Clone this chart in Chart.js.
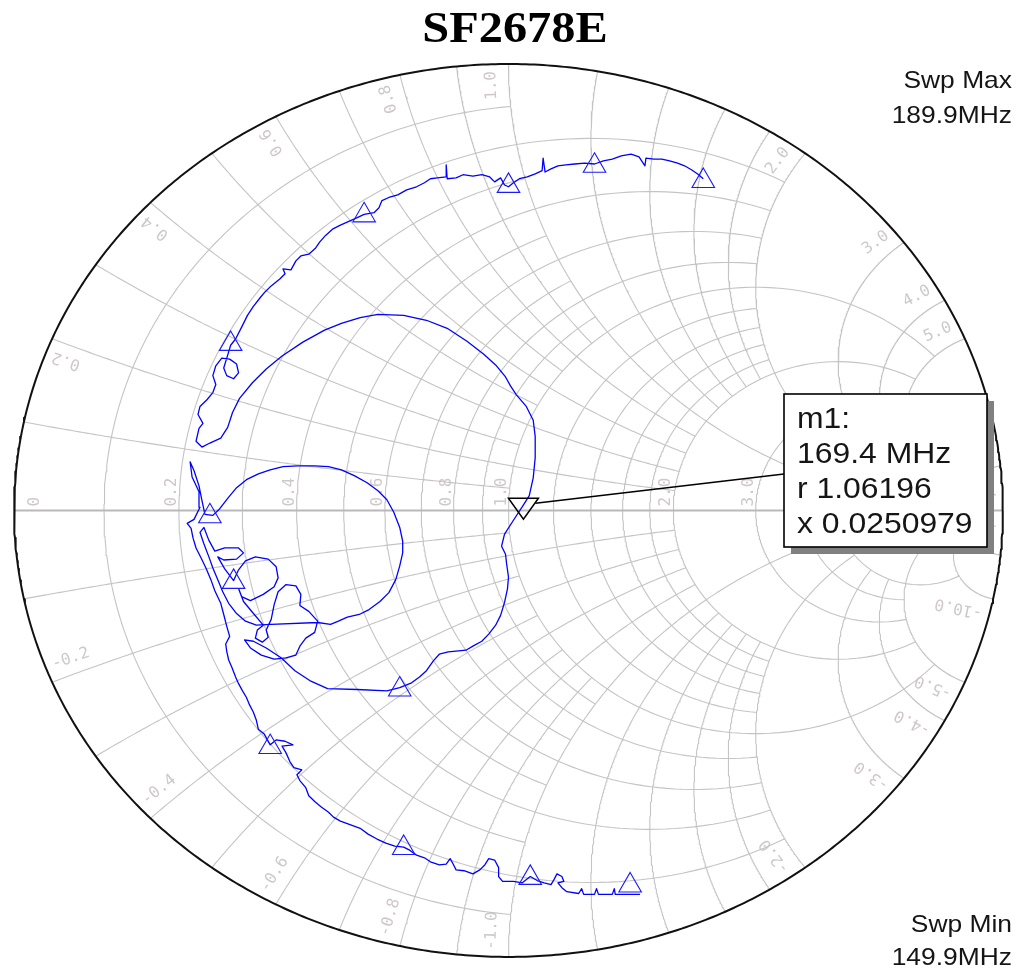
<!DOCTYPE html>
<html>
<head>
<meta charset="utf-8">
<title>SF2678E</title>
<script src="https://cdn.jsdelivr.net/npm/chart.js@4"></script>
<style>
html,body{margin:0;padding:0;background:#fff;}
canvas{display:block;}
</style>
</head>
<body>
<canvas id="smith" width="1017" height="971"></canvas>
<script>
// ---- chart content ----
const chartTitle = 'SF2678E';
const sweepMinMHz = 149.9;
const sweepMaxMHz = 189.9;
const markerName = 'm1';
const markerFreqMHz = 169.4;
const markerR = 1.06196;
const markerX = 0.0250979;

// Measured reflection coefficient, real part (Swp Min -> Swp Max)
const traceRe = [
  0.266,0.228,0.216,0.214,0.210,0.182,0.178,0.174,0.152,0.148,0.142,0.118,
  0.108,0.100,0.112,0.108,0.098,0.092,0.086,0.072,0.058,
  0.044,0.028,0.010,-0.012,-0.020,-0.020,-0.028,-0.040,-0.048,-0.058,
  -0.072,-0.090,-0.106,-0.112,-0.118,-0.126,-0.140,-0.158,-0.170,-0.186,
  -0.200,-0.212,-0.230,-0.248,-0.266,-0.284,-0.300,-0.322,-0.340,-0.354,
  -0.364,-0.380,-0.392,-0.404,-0.410,-0.422,-0.428,-0.418,-0.434,-0.442,
  -0.450,-0.458,-0.436,-0.452,-0.470,-0.482,-0.494,-0.506,-0.510,-0.516,
  -0.524,-0.530,-0.538,-0.546,-0.552,-0.560,-0.566,-0.570,-0.572,-0.564,
  -0.570,-0.576,-0.582,-0.594,-0.602,-0.612,-0.622,-0.632,-0.638,-0.642,
  -0.650,-0.636,-0.624,-0.626,-0.640,-0.644,-0.636,-0.626,-0.620,-0.614,
  -0.598,-0.584,-0.568,-0.550,-0.530,-0.506,-0.482,-0.456,-0.426,-0.392,
  -0.364,-0.338,-0.312,-0.286,-0.264,-0.246,-0.232,-0.220,-0.214,-0.214,
  -0.220,-0.228,-0.242,-0.260,-0.282,-0.302,-0.326,-0.344,-0.360,-0.386,
  -0.480,-0.510,-0.532,-0.550,-0.566,-0.578,-0.588,-0.598,-0.606,-0.616,
  -0.624,-0.616,-0.606,-0.594,-0.574,-0.546,-0.536,-0.550,-0.576,-0.588,
  -0.574,-0.556,-0.546,-0.532,-0.512,-0.486,-0.470,-0.466,-0.474,-0.496,
  -0.522,-0.540,-0.546,-0.536,-0.518,-0.496,-0.508,-0.512,-0.498,-0.486,
  -0.490,-0.480,-0.474,-0.466,-0.450,-0.430,-0.420,-0.422,-0.404,-0.386,
  -0.392,-0.410,-0.422,-0.430,-0.450,-0.474,-0.500,-0.522,-0.534,-0.516,
  -0.490,-0.460,-0.432,-0.402,-0.366,-0.306,-0.246,-0.220,-0.196,-0.180,
  -0.166,-0.152,-0.140,-0.122,-0.106,-0.086,-0.072,-0.054,-0.040,-0.026,
  -0.016,-0.008,-0.002,0.000,-0.004,-0.006,-0.014,-0.008,0.010,0.030,
  0.042,0.050,0.054,0.054,0.050,0.036,0.016,0.004,-0.006,-0.026,
  -0.050,-0.084,-0.124,-0.166,-0.212,-0.264,-0.300,-0.338,-0.372,-0.416,
  -0.458,-0.490,-0.518,-0.544,-0.558,-0.568,-0.582,-0.604,-0.620,-0.632,
  -0.626,-0.618,-0.628,-0.624,-0.610,-0.598,-0.592,-0.598,-0.592,-0.580,
  -0.564,-0.550,-0.546,-0.556,-0.570,-0.576,-0.568,-0.562,-0.552,-0.540,
  -0.528,-0.516,-0.502,-0.492,-0.480,-0.462,-0.452,-0.456,-0.440,-0.430,
  -0.420,-0.404,-0.390,-0.382,-0.370,-0.356,-0.340,-0.324,-0.306,-0.292,
  -0.272,-0.262,-0.256,-0.242,-0.224,-0.206,-0.186,-0.170,-0.158,-0.144,
  -0.126,-0.126,-0.124,-0.106,-0.092,-0.072,-0.054,-0.038,-0.028,-0.016,
  -0.008,0.000,0.010,0.022,0.038,0.054,0.068,0.070,0.074,0.086,
  0.100,0.116,0.134,0.154,0.174,0.192,0.210,0.228,0.248,0.264,
  0.276,0.278,0.294,0.310,0.326,0.342,0.356,0.370,0.382,0.394
];
// Measured reflection coefficient, imaginary part
const traceIm = [
  -0.860,-0.860,-0.860,-0.847,-0.860,-0.860,-0.847,-0.860,-0.860,-0.847,-0.858,-0.854,
  -0.845,-0.834,-0.831,-0.820,-0.814,-0.827,-0.838,-0.834,-0.829,
  -0.820,-0.834,-0.831,-0.831,-0.820,-0.800,-0.783,-0.780,-0.794,-0.805,
  -0.814,-0.807,-0.805,-0.792,-0.780,-0.792,-0.794,-0.787,-0.778,-0.772,
  -0.761,-0.754,-0.752,-0.745,-0.736,-0.725,-0.712,-0.703,-0.696,-0.687,
  -0.676,-0.663,-0.652,-0.639,-0.621,-0.605,-0.592,-0.581,-0.576,-0.563,
  -0.543,-0.528,-0.525,-0.517,-0.514,-0.525,-0.501,-0.490,-0.470,-0.452,
  -0.435,-0.419,-0.404,-0.388,-0.373,-0.350,-0.335,-0.315,-0.299,-0.282,
  -0.259,-0.233,-0.208,-0.180,-0.155,-0.129,-0.106,-0.084,-0.062,-0.040,
  -0.029,-0.020,0.007,0.042,0.075,0.109,0.089,0.055,0.022,-0.009,
  -0.011,0.004,0.027,0.051,0.069,0.082,0.091,0.098,0.100,0.100,
  0.098,0.091,0.078,0.062,0.044,0.024,-0.004,-0.038,-0.069,-0.095,
  -0.124,-0.155,-0.184,-0.204,-0.222,-0.233,-0.239,-0.248,-0.255,-0.251,
  -0.255,-0.257,-0.248,-0.231,-0.208,-0.182,-0.155,-0.129,-0.104,-0.075,
  -0.049,-0.038,-0.067,-0.091,-0.084,-0.084,-0.095,-0.109,-0.111,-0.104,
  -0.131,-0.157,-0.133,-0.113,-0.104,-0.109,-0.126,-0.151,-0.171,-0.188,
  -0.202,-0.193,-0.175,-0.204,-0.228,-0.257,-0.268,-0.286,-0.295,-0.284,
  -0.268,-0.244,-0.211,-0.182,-0.166,-0.169,-0.188,-0.213,-0.226,-0.248,
  -0.273,-0.286,-0.304,-0.324,-0.330,-0.333,-0.324,-0.308,-0.290,-0.293,
  -0.308,-0.330,-0.359,-0.381,-0.399,-0.401,-0.404,-0.397,-0.386,-0.373,
  -0.359,-0.337,-0.322,-0.317,-0.315,-0.313,-0.304,-0.293,-0.277,-0.257,
  -0.235,-0.206,-0.175,-0.149,-0.118,-0.098,-0.080,-0.053,-0.022,0.012,
  0.033,0.073,0.118,0.166,0.202,0.233,0.259,0.279,0.299,0.326,
  0.350,0.379,0.408,0.426,0.437,0.439,0.432,0.419,0.404,0.377,
  0.346,0.317,0.286,0.251,0.220,0.186,0.162,0.151,0.142,0.155,
  0.184,0.195,0.215,0.233,0.248,0.264,0.282,0.302,0.324,0.341,
  0.339,0.328,0.308,0.295,0.302,0.319,0.348,0.370,0.384,0.410,
  0.437,0.457,0.477,0.490,0.503,0.519,0.530,0.541,0.539,0.559,
  0.570,0.574,0.588,0.601,0.616,0.630,0.639,0.647,0.656,0.663,
  0.667,0.678,0.694,0.701,0.707,0.718,0.725,0.734,0.743,0.745,
  0.747,0.774,0.743,0.745,0.752,0.749,0.752,0.747,0.736,0.745,
  0.729,0.725,0.734,0.743,0.747,0.754,0.761,0.789,0.758,0.765,
  0.772,0.774,0.776,0.778,0.776,0.783,0.787,0.794,0.798,0.792,
  0.772,0.789,0.787,0.787,0.783,0.778,0.772,0.763,0.754,0.743
];

// Trace symbol positions (reflection coefficient)
const symbolRe = [0.246, 0.044, -0.212, -0.482, -0.220, -0.556, -0.604, -0.562, -0.292, 0.000, 0.174, 0.394];
const symbolIm = [-0.840, -0.823, -0.756, -0.530, -0.401, -0.160, -0.013, 0.373, 0.661, 0.727, 0.772, 0.738];

// Smith grid: constant-resistance circles and the reactance range each one spans
const resistanceValues = [0.1,0.2,0.3,0.4,0.5,0.6,0.7,0.8,0.9,1.0,1.2,1.4,1.6,1.8,2.0,3.0,4.0,5.0,10,20];
const resistanceExtent = [1,  2,  1,  2,  1,  2,  1,  2,  1,  5,  2,  2,  2,  2,  5,  5,  5,  10, 20,50];
// constant-reactance arcs and the resistance range each one spans
const reactanceValues  = [0.1,0.2,0.3,0.4,0.5,0.6,0.7,0.8,0.9,1.0,1.2,1.4,1.6,1.8,2.0,3.0,4.0,5.0,10,20];
const reactanceExtent  = [1,  2,  1,  2,  1,  2,  1,  2,  1,  5,  2,  2,  2,  2,  5,  5,  5,  10, 20,50];
// grid labels
const resistanceTicks = [0, 0.2, 0.4, 0.6, 0.8, 1.0, 2.0, 3.0, 4.0, 5.0, 10.0];
const reactanceTicks  = [0.2, 0.4, 0.6, 0.8, 1.0, 2.0, 3.0, 4.0, 5.0, 10.0];

// ---- helpers ----
// normalized impedance z = r + jx  ->  reflection coefficient
function gamma(r, x) {
  const d = (r + 1) * (r + 1) + x * x;
  return { x: (r * r - 1 + x * x) / d, y: 2 * x / d };
}
const STEPS = 180;
function resistanceCircle(r, xmax) {
  const T = Math.atan(xmax);
  const pts = [];
  for (let i = 0; i <= STEPS; i++) pts.push(gamma(r, Math.tan(-T + 2 * T * i / STEPS)));
  return pts;
}
function reactanceArc(x, rmax) {
  const T = Math.atan(rmax);
  const pts = [];
  for (let i = 0; i <= STEPS; i++) pts.push(gamma(Math.tan(T * i / STEPS), x));
  return pts;
}
function lineSet(data, color, width, order) {
  return {
    data, showLine: true, borderColor: color, borderWidth: width,
    pointRadius: 0, pointHoverRadius: 0, fill: false, tension: 0,
    clip: false, order, borderJoinStyle: 'round'
  };
}

const GRID = '#c4c4c4';
const datasets = [];

// measured trace
datasets.push(lineSet(traceRe.map((v, i) => ({ x: v, y: traceIm[i] })), '#0000ff', 1.3, 1));

// trace symbols
datasets.push({
  data: symbolRe.map((v, i) => ({ x: v, y: symbolIm[i] })),
  showLine: false, pointStyle: 'triangle', pointRadius: 13, pointHoverRadius: 13,
  pointBorderColor: '#1a1aff', pointBackgroundColor: 'rgba(0,0,0,0)', pointBorderWidth: 1.1,
  clip: false, order: 0
});

// unit circle
const rim = [];
for (let i = 0; i <= 720; i++) { const a = i / 720 * 2 * Math.PI; rim.push({ x: Math.cos(a), y: Math.sin(a) }); }
datasets.push(lineSet(rim, '#111111', 2, 2));

// real axis
datasets.push(lineSet([{ x: -1, y: 0 }, { x: 1, y: 0 }], '#b9b9b9', 2, 3));

// grid
resistanceValues.forEach((r, i) => datasets.push(lineSet(resistanceCircle(r, resistanceExtent[i]), GRID, 1.1, 4)));
reactanceValues.forEach((x, i) => {
  datasets.push(lineSet(reactanceArc(x, reactanceExtent[i]), GRID, 1.1, 4));
  datasets.push(lineSet(reactanceArc(-x, reactanceExtent[i]), GRID, 1.1, 4));
});

const STRETCH = 1.1;
function stretchedText(ctx, text, x, y, align) {
  ctx.save();
  ctx.translate(x, y);
  ctx.scale(STRETCH, 1);
  ctx.textAlign = align;
  ctx.fillText(text, 0, 0);
  ctx.restore();
}

const smithDecor = {
  id: 'smithDecor',
  beforeDatasetsDraw(chart) {
    const { ctx } = chart;
    const sx = chart.scales.x, sy = chart.scales.y;
    const cx = sx.getPixelForValue(0), cy = sy.getPixelForValue(0);
    ctx.save();
    ctx.fillStyle = '#d0c8c8';
    ctx.font = '16px "DejaVu Sans Mono", monospace';
    ctx.textBaseline = 'alphabetic';
    // resistance labels, written upward just left of each circle
    resistanceTicks.forEach(r => {
      const px = sx.getPixelForValue(gamma(r, 0).x);
      const txt = r === 0 ? '0' : r.toFixed(1);
      ctx.save();
      ctx.translate(r === 0 ? px + 25 : px - 3, cy - 4);
      ctx.rotate(-Math.PI / 2);
      ctx.textAlign = 'left';
      ctx.fillText(txt, 0, 0);
      ctx.restore();
    });
    // reactance labels near the rim
    ctx.textBaseline = 'middle';
    reactanceTicks.forEach(xv => {
      [1, -1].forEach(s => {
        const th = s * (Math.PI - 2 * Math.atan(xv));
        const a = th + s * 0.036;
        const px = sx.getPixelForValue(0.985 * Math.cos(a));
        const py = sy.getPixelForValue(0.985 * Math.sin(a));
        const vx = px - cx, vy = py - cy;
        ctx.save();
        ctx.translate(px, py);
        if (s > 0) { ctx.rotate(Math.atan2(vy, vx)); ctx.textAlign = 'right'; }
        else { ctx.rotate(Math.atan2(-vy, -vx)); ctx.textAlign = 'left'; }
        ctx.fillText((s < 0 ? '-' : '') + xv.toFixed(1), 0, 0);
        ctx.restore();
      });
    });
    ctx.restore();
  },
  afterDatasetsDraw(chart) {
    const { ctx } = chart;
    const sx = chart.scales.x, sy = chart.scales.y;
    const g = gamma(markerR, markerX);
    const mx = sx.getPixelForValue(g.x), my = sy.getPixelForValue(g.y);
    ctx.save();
    // marker symbol
    ctx.strokeStyle = '#000';
    ctx.lineWidth = 1.5;
    ctx.beginPath();
    ctx.moveTo(mx - 15, my - 7);
    ctx.lineTo(mx + 15, my - 7);
    ctx.lineTo(mx, my + 14);
    ctx.closePath();
    ctx.stroke();
    // readout box
    const bx = 784, by = 394, bw = 203, bh = 153;
    ctx.beginPath();
    ctx.moveTo(mx + 12, my - 2);
    ctx.lineTo(bx, 474);
    ctx.stroke();
    ctx.fillStyle = '#808080';
    ctx.fillRect(bx + 7, by + 7, bw, bh);
    ctx.fillStyle = '#ffffff';
    ctx.fillRect(bx, by, bw, bh);
    ctx.lineWidth = 1.6;
    ctx.strokeRect(bx, by, bw, bh);
    ctx.fillStyle = '#151515';
    ctx.font = '29px "Liberation Sans", Arial, sans-serif';
    ctx.textBaseline = 'alphabetic';
    stretchedText(ctx, markerName + ':', 797, 428, 'left');
    stretchedText(ctx, markerFreqMHz.toFixed(1) + ' MHz', 797, 463, 'left');
    stretchedText(ctx, 'r ' + markerR, 797, 498, 'left');
    stretchedText(ctx, 'x ' + markerX, 797, 533, 'left');
    // sweep limits
    ctx.font = '24px "Liberation Sans", Arial, sans-serif';
    stretchedText(ctx, 'Swp Max', 1012, 88, 'right');
    stretchedText(ctx, sweepMaxMHz.toFixed(1) + 'MHz', 1012, 123, 'right');
    stretchedText(ctx, 'Swp Min', 1012, 932, 'right');
    stretchedText(ctx, sweepMinMHz.toFixed(1) + 'MHz', 1012, 965, 'right');
    // title
    ctx.fillStyle = '#000';
    ctx.font = 'bold 44px "Liberation Serif", "Times New Roman", serif';
    stretchedText(ctx, chartTitle, 515, 42, 'center');
    ctx.restore();
  }
};

new Chart(document.getElementById('smith'), {
  type: 'scatter',
  data: { datasets },
  options: {
    responsive: false,
    animation: false,
    devicePixelRatio: 1,
    events: [],
    layout: { padding: { left: 13, right: 4, top: 64, bottom: 5 } },
    scales: {
      x: { type: 'linear', min: -1, max: 1, display: false },
      y: { type: 'linear', min: -1, max: 1, display: false }
    },
    plugins: {
      legend: { display: false },
      tooltip: { enabled: false },
      title: { display: false }
    }
  },
  plugins: [smithDecor]
});
</script>
</body>
</html>
